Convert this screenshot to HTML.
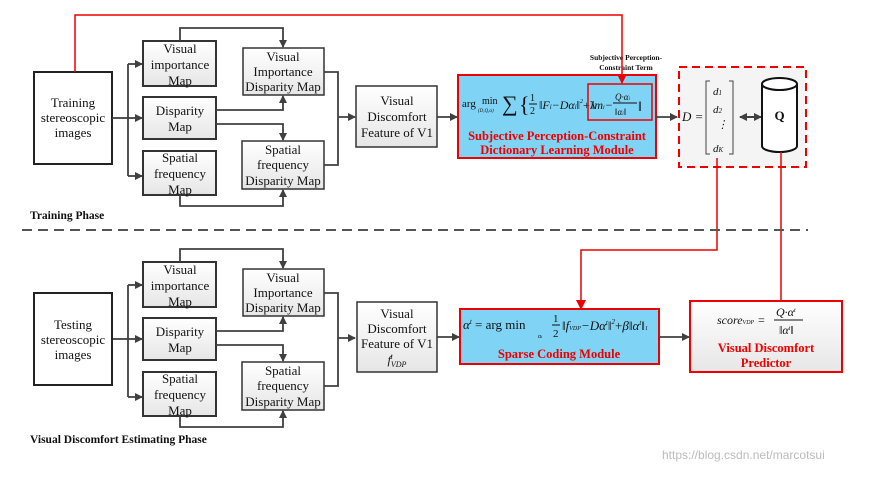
<!DOCTYPE html>
<html><head><meta charset="utf-8"><style>
body{margin:0;background:#fff}
svg text{font-family:"Liberation Serif",serif}
</style></head><body>
<svg width="884" height="473" viewBox="0 0 884 473" xmlns="http://www.w3.org/2000/svg">
<defs>
<linearGradient id="g" x1="0" y1="0" x2="0" y2="1"><stop offset="0" stop-color="#fff"/><stop offset="1" stop-color="#e6e6e6"/></linearGradient>
<marker id="a" markerWidth="8" markerHeight="8" refX="7" refY="4" orient="auto" markerUnits="userSpaceOnUse"><path d="M0,0 L8,4 L0,8 Z" fill="#404040"/></marker>
<marker id="r" markerWidth="10" markerHeight="10" refX="9" refY="5" orient="auto" markerUnits="userSpaceOnUse"><path d="M0,0 L10,5 L0,10 Z" fill="#e00"/></marker>
<marker id="as" markerWidth="8" markerHeight="8" refX="1" refY="4" orient="auto" markerUnits="userSpaceOnUse"><path d="M8,0 L0,4 L8,8 Z" fill="#404040"/></marker>
</defs>

<g id="phase">
<rect x="34" y="72" width="78" height="92" fill="#fff" stroke="#222" stroke-width="2"/>
<rect x="143" y="41" width="73" height="45" fill="url(#g)" stroke="#333" stroke-width="2"/>
<rect x="143" y="97" width="73" height="42" fill="url(#g)" stroke="#333" stroke-width="2"/>
<rect x="143" y="151" width="73" height="44" fill="url(#g)" stroke="#333" stroke-width="2"/>
<rect x="243" y="48" width="81" height="47" fill="url(#g)" stroke="#333" stroke-width="1.5"/>
<rect x="242" y="141" width="82" height="48" fill="url(#g)" stroke="#333" stroke-width="1.5"/>
<g fill="none" stroke="#404040" stroke-width="1.8">
<path d="M112,118 H128"/>
<path d="M128,64 V176"/>
<path d="M128,64 H142" marker-end="url(#a)"/>
<path d="M128,118 H142" marker-end="url(#a)"/>
<path d="M128,176 H142" marker-end="url(#a)"/>
<path d="M180,41 V28 H283 V47" marker-end="url(#a)"/>
<path d="M216,110 H283 V96" marker-end="url(#a)"/>
<path d="M216,124 H283 V140" marker-end="url(#a)"/>
<path d="M180,195 V206 H283 V190" marker-end="url(#a)"/>
<path d="M324,72 H338 V165 H324"/>
<path d="M338,117 H355" marker-end="url(#a)"/>
</g>
<g font-size="13" text-anchor="middle" fill="#111">
<text x="180" y="53">Visual</text><text x="180" y="69">importance</text><text x="180" y="85">Map</text>
<text x="180" y="115">Disparity</text><text x="180" y="131">Map</text>
<text x="180" y="162">Spatial</text><text x="180" y="178">frequency</text><text x="180" y="194">Map</text>
<text x="283" y="61">Visual</text><text x="283" y="76">Importance</text><text x="283" y="91">Disparity Map</text>
<text x="283" y="154">Spatial</text><text x="283" y="169">frequency</text><text x="283" y="185">Disparity Map</text>
</g>
</g>
<g font-size="13" text-anchor="middle" fill="#111">
<text x="73" y="107">Training</text><text x="73" y="122">stereoscopic</text><text x="73" y="137">images</text>
</g>
<use href="#phase" y="221"/>
<rect x="34" y="293" width="78" height="92" fill="#fff"/>
<rect x="34" y="293" width="78" height="92" fill="none" stroke="#222" stroke-width="2"/>
<g font-size="13" text-anchor="middle" fill="#111">
<text x="73" y="329">Testing</text><text x="73" y="344">stereoscopic</text><text x="73" y="359">images</text>
</g>

<rect x="356" y="86" width="81" height="61" fill="url(#g)" stroke="#333" stroke-width="1.5"/>
<g font-size="13" text-anchor="middle" fill="#111">
<text x="397" y="105">Visual</text><text x="397" y="121">Discomfort</text><text x="397" y="137">Feature of V1</text>
</g>
<path d="M437,117 H457" stroke="#404040" stroke-width="1.8" fill="none" marker-end="url(#a)"/>
<rect x="357" y="302" width="80" height="70" fill="url(#g)" stroke="#333" stroke-width="1.5"/>
<g font-size="13" text-anchor="middle" fill="#111">
<text x="397" y="318">Visual</text><text x="397" y="333">Discomfort</text><text x="397" y="348">Feature of V1</text>
<text x="397" y="364" font-style="italic" font-size="12">f<tspan font-size="8" dy="3">VDP</tspan><tspan font-size="8" dx="-16" dy="-8">t</tspan></text>
</g>
<path d="M437,337 H459" stroke="#404040" stroke-width="1.8" fill="none" marker-end="url(#a)"/>

<rect x="458" y="75" width="198" height="83" fill="#7fd3f5" stroke="#e00" stroke-width="2"/>
<text x="462" y="107" font-size="11" fill="#111">arg</text>
<text x="482" y="104" font-size="10" fill="#111">min</text>
<text x="478" y="112" font-size="5" font-style="italic" fill="#111">(D,Q,α)</text>
<text x="502" y="111" font-size="22" fill="#111">∑</text>
<text x="519" y="112" font-size="22" fill="#111">{</text>
<text x="530" y="101" font-size="10" fill="#111">1</text><line x1="529" y1="104" x2="537" y2="104" stroke="#111"/>
<text x="530" y="114" font-size="10" fill="#111">2</text>
<text x="539" y="109" font-size="12" font-style="italic" fill="#111">‖F<tspan font-size="7">i</tspan>−Dα<tspan font-size="7">i</tspan>‖<tspan font-size="6" dy="-6">2</tspan><tspan dy="6" font-style="normal">+λ</tspan></text>
<rect x="588" y="84" width="64" height="36" fill="none" stroke="#e00" stroke-width="1.5"/>
<text x="591" y="109" font-size="12" font-style="italic" fill="#111">‖m<tspan font-size="6">i</tspan>−</text>
<text x="615" y="100" font-size="9" font-style="italic" fill="#111">Q·α<tspan font-size="5">i</tspan></text>
<line x1="613" y1="103" x2="637" y2="103" stroke="#111"/>
<text x="615" y="115" font-size="9" font-style="italic" fill="#111">‖α<tspan font-size="5">i</tspan>‖</text>
<text x="638" y="111" font-size="14" fill="#111">‖</text>
<text x="557" y="140" font-size="12.5" font-weight="bold" fill="#e00" text-anchor="middle">Subjective Perception-Constraint</text>
<text x="557" y="154" font-size="12.5" font-weight="bold" fill="#e00" text-anchor="middle">Dictionary Learning Module</text>
<text x="626" y="60" font-size="7.5" font-weight="bold" fill="#111" text-anchor="middle">Subjective Perception-</text>
<text x="626" y="70" font-size="7.5" font-weight="bold" fill="#111" text-anchor="middle">Constraint Term</text>
<path d="M656,117 H677" stroke="#404040" stroke-width="1.8" fill="none" marker-end="url(#a)"/>

<rect x="679" y="67" width="127" height="100" fill="#f4f4f4" stroke="#e00" stroke-width="2" stroke-dasharray="8,5"/>
<text x="682" y="121" font-size="13" font-style="italic" fill="#111">D =</text>
<path d="M710,81 h-4 v73 h4 M729,81 h4 v73 h-4" fill="none" stroke="#444" stroke-width="1"/>
<g font-size="11" font-style="italic" fill="#111">
<text x="713" y="95">d<tspan font-size="7">1</tspan></text>
<text x="713" y="113">d<tspan font-size="7">2</tspan></text>
<text x="717" y="128">⋮</text>
<text x="713" y="152">d<tspan font-size="7">K</tspan></text>
</g>
<path d="M740,117 H761" stroke="#404040" stroke-width="2" fill="none" marker-end="url(#a)" marker-start="url(#as)"/>
<path d="M762,84 V146 A17.5,6 0 0 0 797,146 V84" fill="#fff" stroke="#111" stroke-width="2"/>
<ellipse cx="779.5" cy="84" rx="17.5" ry="6" fill="#fff" stroke="#111" stroke-width="2"/>
<text x="779.5" y="120" font-size="13" font-weight="bold" text-anchor="middle" fill="#111">Q</text>

<g fill="none" stroke="#e00" stroke-width="1.5">
<path d="M75,72 V15 H622 V83" marker-end="url(#r)"/>
<path d="M717,158 V250 H581 V309" marker-end="url(#r)"/>
<path d="M781,152 V318" marker-end="url(#r)"/>
</g>

<rect x="460" y="309" width="199" height="55" fill="#7fd3f5" stroke="#e00" stroke-width="2"/>
<text x="463" y="329" font-size="13" font-style="italic" fill="#111">α<tspan font-size="7" dy="-5">t</tspan><tspan dy="5" font-style="normal"> = arg min</tspan></text>
<text x="538" y="338" font-size="6" font-style="italic" fill="#111">α<tspan font-size="4">t</tspan></text>
<text x="553" y="322" font-size="11" fill="#111">1</text><line x1="552" y1="325" x2="560" y2="325" stroke="#111"/>
<text x="553" y="337" font-size="11" fill="#111">2</text>
<text x="562" y="330" font-size="13" font-style="italic" fill="#111">‖f<tspan font-size="6">VDP</tspan>−Dα<tspan font-size="7" dy="-5">t</tspan><tspan dy="5">‖</tspan><tspan font-size="7" dy="-6">2</tspan><tspan dy="6" font-style="normal">+</tspan>β‖α<tspan font-size="7" dy="-5">t</tspan><tspan dy="5">‖</tspan><tspan font-size="6">1</tspan></text>
<text x="559" y="358" font-size="12.5" font-weight="bold" fill="#e00" text-anchor="middle">Sparse Coding Module</text>
<path d="M659,337 H689" stroke="#404040" stroke-width="1.8" fill="none" marker-end="url(#a)"/>

<rect x="690" y="301" width="152" height="71" fill="url(#g)" stroke="#e00" stroke-width="2"/>
<text x="717" y="324" font-size="12" font-style="italic" fill="#111">score<tspan font-size="6">VDP</tspan> =</text>
<text x="776" y="316" font-size="12" font-style="italic" fill="#111">Q·α<tspan font-size="6" dy="-4">t</tspan></text>
<line x1="774" y1="320" x2="803" y2="320" stroke="#111"/>
<text x="779" y="334" font-size="12" font-style="italic" fill="#111">‖α<tspan font-size="6" dy="-4">t</tspan><tspan dy="4">‖</tspan></text>
<text x="766" y="352" font-size="12.5" font-weight="bold" fill="#e00" text-anchor="middle">Visual Discomfort</text>
<text x="766" y="367" font-size="12.5" font-weight="bold" fill="#e00" text-anchor="middle">Predictor</text>

<text x="30" y="219" font-size="11.5" font-weight="bold" fill="#111">Training Phase</text>
<line x1="22" y1="230" x2="808" y2="230" stroke="#555" stroke-width="2" stroke-dasharray="10,6"/>
<text x="30" y="443" font-size="11.5" font-weight="bold" fill="#111">Visual Discomfort Estimating Phase</text>
<text x="662" y="459" font-size="12" fill="#bbb" style="font-family:'Liberation Sans',sans-serif">https://blog.csdn.net/marcotsui</text>
</svg>
</body></html>
